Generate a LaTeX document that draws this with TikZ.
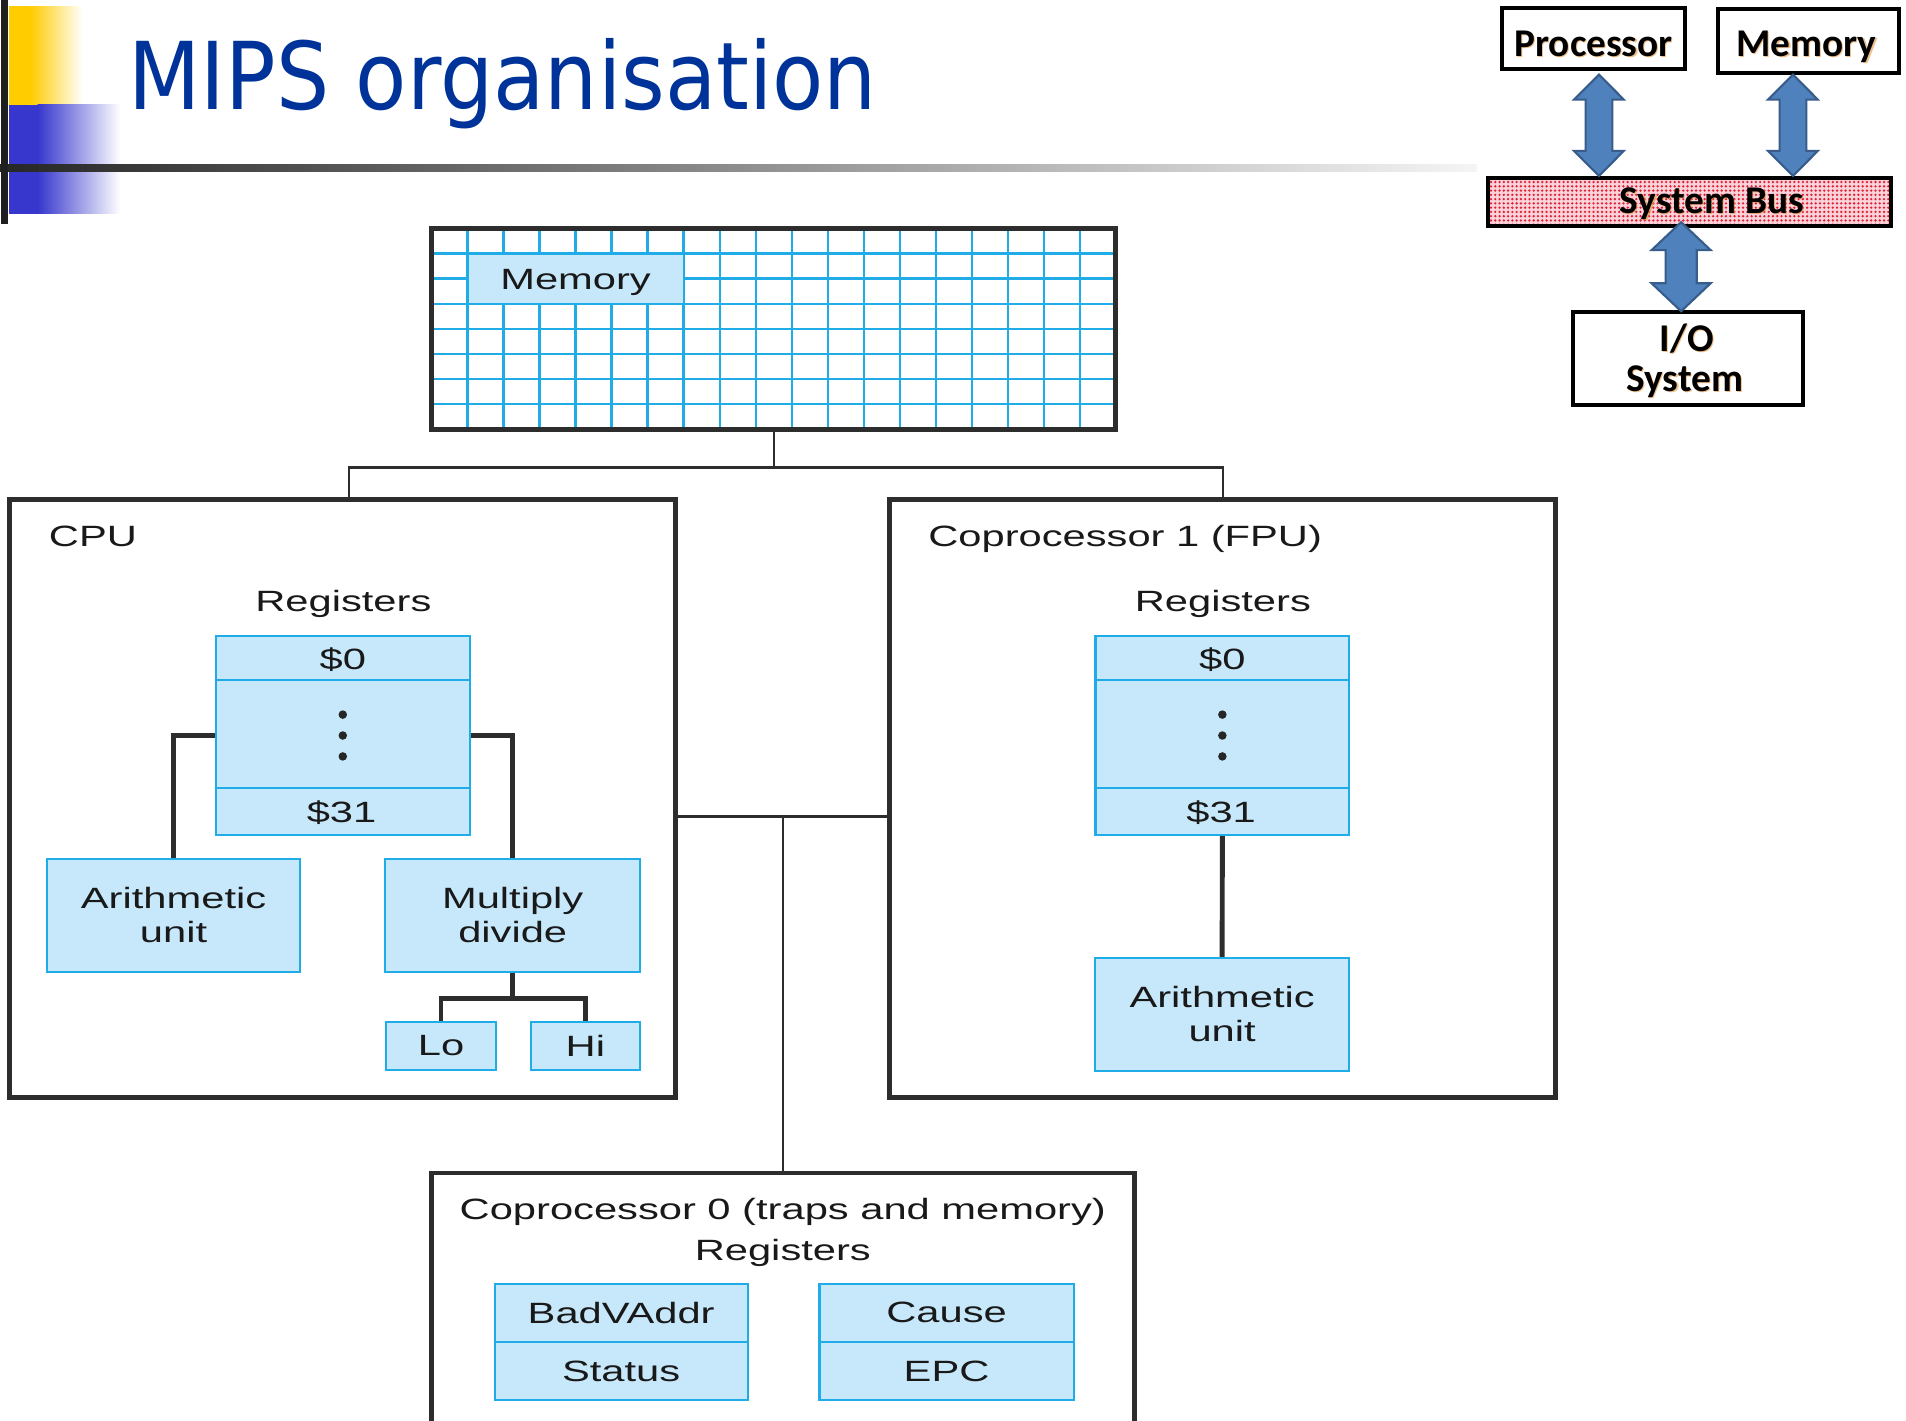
\documentclass[tikz,border=0pt]{standalone}
\usepackage{fontspec}
\usetikzlibrary{calc,patterns.meta}
\newfontfamily\figfont[FakeStretch=1.42]{Liberation Sans}
\newfontfamily\titlefont[FakeStretch=0.896]{DejaVu Sans}
\newfontfamily\slidefont{Carlito}

\definecolor{titleblue}{RGB}{0,51,153}
\definecolor{gridcyan}{RGB}{32,172,230}
\definecolor{regfill}{RGB}{198,232,250}
\definecolor{frameclr}{RGB}{45,45,45}
\definecolor{arrowfill}{RGB}{79,129,189}
\definecolor{arrowline}{RGB}{56,93,138}
\definecolor{busfill}{RGB}{250,210,218}
\definecolor{busdot}{RGB}{225,30,50}
\definecolor{glowclr}{RGB}{225,140,40}
\definecolor{decoyellow}{RGB}{255,204,0}
\definecolor{decoblue}{RGB}{55,55,205}

% double-headed block arrow: top tip, bottom tip, head half-width, shaft half-width, head length
\newcommand\dblarrow[5]{%
  \filldraw[busarrow] (#1) -- ($(#1)+(#3,#5)$) -- ($(#1)+(#4,#5)$) -- ($(#2)+(#4,-#5)$)
    -- ($(#2)+(#3,-#5)$) -- (#2) -- ($(#2)+(-#3,-#5)$) -- ($(#2)+(-#4,-#5)$)
    -- ($(#1)+(-#4,#5)$) -- ($(#1)+(-#3,#5)$) -- cycle;}

% bold label with a soft orange halo behind it
\newcommand\glowtext[3]{%
  \node[slidetext, text=glowclr, opacity=0.55] (#1glow) at ($(#2)+(0.9,0.9)$) {#3};
  \node[slidetext] (#1) at (#2) {#3};}

\begin{document}
\begin{tikzpicture}[x=0.1mm,y=-0.1mm,
  figtext/.style={font=\figfont\fontsize{6.87}{7.97}\selectfont, inner sep=0pt, text=black!90},
  frame/.style={draw=frameclr, line width=1.15pt, inner sep=0pt},
  cell/.style={draw=gridcyan, fill=regfill, line width=0.5pt, figtext, align=center},
  gridline/.style={draw=gridcyan, line width=0.55pt},
  link/.style={draw=frameclr, line width=0.55pt},
  heavylink/.style={draw=frameclr, line width=1.15pt},
  slidebox/.style={draw=black, line width=0.8pt, inner sep=0pt, fill=white},
  slidetext/.style={font=\slidefont\bfseries\fontsize{9.2}{11}\selectfont, inner sep=0pt, anchor=base},
  busarrow/.style={fill=arrowfill, draw=arrowline, line width=0.5pt, line join=miter}]

\path[use as bounding box, clip] (0,0) rectangle (1568,1169);
\fill[white] (0,0) rectangle (1568,1169);

% ---- slide decoration ----
\fill[decoyellow] (7,5) rectangle (25,86);
\shade[left color=decoyellow, right color=white] (25,5) rectangle (68,86);
\fill[decoblue] (7,86) rectangle (31,176);
\shade[left color=decoblue, right color=white] (31,86) rectangle (99,176);
\shade[left color=black!85, right color=black!4] (0,135) rectangle (1215,141.5);
\fill[black!88] (0.5,0) rectangle (6.5,184.5);

\node[anchor=base west, inner sep=0pt, text=titleblue,
      font=\titlefont\fontsize{21.9}{26}\selectfont] (title) at (105,90.5) {MIPS organisation};

% ---- system bus sketch ----
\node[slidebox, minimum width=15.06mm, minimum height=5.02mm] (proc) at (1310.9,31.7) {};
\node[slidebox, minimum width=14.89mm, minimum height=5.26mm] (mainmem) at (1487.8,33.7) {};
\node[draw=black, line width=1pt, inner sep=0pt, minimum width=33.15mm, minimum height=3.95mm,
      preaction={fill=busfill}, pattern={Dots[distance=1pt,radius=0.3pt]}, pattern color=busdot]
      (bus) at (1389.9,166.2) {};
\node[slidebox, minimum width=18.92mm, minimum height=7.65mm] (io) at (1388.6,295) {};

\glowtext{proctext}{1311,46.5}{Processor}
\glowtext{memtext}{1486.2,46.5}{Memory}
\glowtext{bustext}{1408.4,175.5}{System Bus}
\glowtext{iotext}{1387.5,289.3}{I/O}
\glowtext{systext}{1386,322.2}{System}

\coordinate (pat) at ($(proc.south)+(4.5,3.2)$);
\coordinate (pab) at (pat |- bus.north);
\coordinate (mat) at ($(mainmem.south)+(-12.8,0)$);
\coordinate (mab) at (mat |- bus.north);
\coordinate (iot) at ($(bus.south)+(-6.9,-4.9)$);
\coordinate (iob) at ($(iot |- io.north)+(0,0.7)$);
\dblarrow{pat}{pab}{20.5}{11}{20.6}
\dblarrow{mat}{mab}{20.5}{11}{20.6}
\dblarrow{iot}{iob}{24.3}{12.8}{23}

% ---- memory grid ----
\foreach \i in {1,...,18}
  \draw[gridline] ({355+\i*563/19},188) -- ({355+\i*563/19},353);
\foreach \j in {1,...,7}
  \draw[gridline] (355,{188+\j*165/8}) -- (918,{188+\j*165/8});
\node[cell, minimum width=17.78mm, minimum height=4.125mm, text height=1.73mm, text depth=0pt]
  (memlabel) at (473.5,229.25) {Memory};
\node[frame, minimum width=56.3mm, minimum height=16.5mm] (mem) at (636.5,270.5) {};

% ---- CPU ----
\node[frame, minimum width=54.8mm, minimum height=49.2mm] (cpu) at (282,657) {};
\node[figtext, anchor=base west] (cputitle) at (39.6,449.4) {CPU};
\node[figtext, anchor=base] (cpuregtitle) at (282.5,503.2) {Registers};
\node[cell, minimum width=20.92mm, minimum height=16.38mm] (cpureg) at (282,605.1) {};
\draw[gridline] ($(cpureg.north west)+(0,37)$) -- ($(cpureg.north east)+(0,37)$);
\draw[gridline] ($(cpureg.north west)+(0,126.1)$) -- ($(cpureg.north east)+(0,126.1)$);
\node[figtext, anchor=base] (cpur0) at ($(cpureg.north)+(0,28.5)$) {\$0};
\node[figtext, anchor=base] (cpur31) at ($(cpureg.north)+(-1,154.7)$) {\$31};
\foreach \d in {-17.2,0,17.2}
  \fill[black!85] ($(cpureg.center)+(0,\d)$) circle[radius=0.35mm];
\node[cell, minimum width=20.84mm, minimum height=9.3mm] (cpuau) at (142.8,753) {Arithmetic\\unit};
\node[cell, minimum width=20.95mm, minimum height=9.3mm] (md) at (421.8,753) {Multiply\\divide};
\node[cell, minimum width=9.05mm, minimum height=3.95mm] (lo) at (362.8,860.3) {Lo};
\node[cell, minimum width=8.99mm, minimum height=3.95mm] (hi) at (481.6,860.3) {Hi};
\draw[heavylink] (cpureg.west) -| (cpuau.north);
\draw[heavylink] (cpureg.east) -| (md.north);
\draw[heavylink] (md.south) -- ++(0,20.7) coordinate (mdj);
\draw[heavylink] (lo.north) |- (mdj) -| (hi.north);

% ---- coprocessor 1 ----
\node[frame, minimum width=54.8mm, minimum height=49.2mm] (fpu) at (1006,657) {};
\node[figtext, anchor=base west] (fputitle) at (763,449.4) {Coprocessor 1 (FPU)};
\node[figtext, anchor=base] (fpuregtitle) at (1006,503.2) {Registers};
\node[cell, minimum width=20.87mm, minimum height=16.38mm] (fpureg) at (1005.6,605.1) {};
\draw[gridline] ($(fpureg.north west)+(0,37)$) -- ($(fpureg.north east)+(0,37)$);
\draw[gridline] ($(fpureg.north west)+(0,126.1)$) -- ($(fpureg.north east)+(0,126.1)$);
\node[figtext, anchor=base] (fpur0) at ($(fpureg.north)+(0,28.5)$) {\$0};
\node[figtext, anchor=base] (fpur31) at ($(fpureg.north)+(-1,154.7)$) {\$31};
\foreach \d in {-17.2,0,17.2}
  \fill[black!85] ($(fpureg.center)+(0,\d)$) circle[radius=0.35mm];
\node[cell, minimum width=20.85mm, minimum height=9.3mm] (fpuau) at (1005.4,834.5) {Arithmetic\\unit};
\draw[heavylink] (fpureg.south) -- (fpuau.north);

% ---- coprocessor 0 ----
\node[frame, minimum width=57.8mm, minimum height=23mm] (cp0) at (644,1080) {};
\node[figtext, anchor=base] (cp0title) at (644,1003.6) {Coprocessor 0 (traps and memory)};
\node[figtext, anchor=base] (cp0regtitle) at (644,1036.6) {Registers};
\node[cell, minimum width=20.8mm, minimum height=4.8mm] (badv) at (511,1080) {BadVAddr};
\node[cell, minimum width=20.8mm, minimum height=4.76mm] (status) at (511,1127.8) {Status};
\node[cell, minimum width=20.9mm, minimum height=4.8mm] (cause) at (778.7,1080) {Cause};
\node[cell, minimum width=20.9mm, minimum height=4.76mm] (epc) at (778.7,1127.8) {EPC};

% ---- interconnect ----
\coordinate (memj) at (mem.south |- 0,384.7);
\draw[link] (mem.south) -- (memj);
\draw[link] ($(cpu.north)+(5,0)$) |- (memj) -| (fpu.north);
\coordinate (midj) at (cp0.north |- 0,671.8);
\draw[link] (cpu.east |- midj) -- (fpu.west |- midj);
\draw[link] (midj) -- (cp0.north);

\end{tikzpicture}
\end{document}
